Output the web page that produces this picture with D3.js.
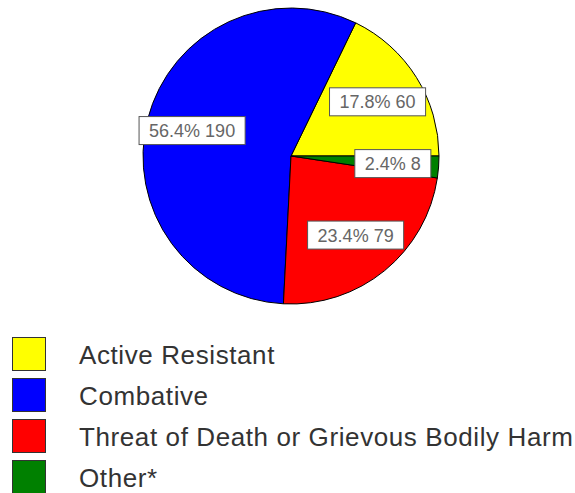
<!DOCTYPE html>
<html>
<head>
<meta charset="utf-8">
<script src="https://cdn.jsdelivr.net/npm/d3@7"></script>
<style>
  html, body { margin: 0; padding: 0; background: #fff; }
  svg { display: block; }
</style>
</head>
<body>
<div id="chart"></div>
<script>
const categories = ["Active Resistant", "Combative", "Threat of Death or Grievous Bodily Harm", "Other*"];
const values = [60, 190, 79, 8];
const colors = ["#ffff00", "#0000ff", "#ff0000", "#008000"];

const W = 575, H = 493;
const cx = 291, cy = 156, R = 148;

const svg = d3.select("#chart").append("svg").attr("width", W).attr("height", H);

const data = categories.map((c, i) => ({ name: c, value: values[i], color: colors[i] }));
const total = d3.sum(values);

const pie = d3.pie().value(d => d.value).sort(null)
  .startAngle(Math.PI / 2).endAngle(Math.PI / 2 - 2 * Math.PI);
const arcs = pie(data);

const arc = d3.arc().innerRadius(0).outerRadius(R);
const labelArc = d3.arc().innerRadius(R * 0.69).outerRadius(R * 0.69);

const g = svg.append("g").attr("transform", `translate(${cx},${cy})`);

g.selectAll("path.slice").data(arcs).join("path")
  .attr("class", "slice")
  .attr("d", arc)
  .attr("fill", d => d.data.color)
  .attr("stroke", "#000")
  .attr("stroke-width", 1)
  .attr("stroke-linejoin", "round");

const fmt = d => (d.data.value / total * 100).toFixed(1) + "% " + d.data.value;

const lab = g.selectAll("g.lab").data(arcs).join("g")
  .attr("class", "lab")
  .attr("transform", d => `translate(${labelArc.centroid(d)})`);

lab.each(function(d) {
  const sel = d3.select(this);
  const t = sel.append("text")
    .attr("text-anchor", "middle")
    .attr("dy", "0.36em")
    .attr("font-family", "'Liberation Sans', Arial, sans-serif")
    .attr("font-size", 18)
    .attr("fill", "#666")
    .text(fmt(d));
  const bb = t.node().getBBox();
  sel.insert("rect", "text")
    .attr("x", -bb.width / 2 - 10)
    .attr("y", -14)
    .attr("width", bb.width + 20)
    .attr("height", 28)
    .attr("fill", "#fff")
    .attr("stroke", "#555")
    .attr("stroke-width", 1);
});

const legend = svg.append("g");
const rowY = d3.scaleBand().domain(categories).range([337, 337 + 41 * 4]).paddingInner(0);

const rows = legend.selectAll("g").data(data).join("g")
  .attr("transform", d => `translate(0,${rowY(d.name)})`);

rows.append("rect")
  .attr("x", 12.5).attr("y", 0.5)
  .attr("width", 33).attr("height", 33)
  .attr("fill", d => d.color)
  .attr("stroke", "#333")
  .attr("stroke-width", 1);

rows.append("text")
  .attr("x", 79)
  .attr("y", 27)
  .attr("font-family", "'Liberation Sans', Arial, sans-serif")
  .attr("font-size", 26)
  .attr("letter-spacing", 0.6)
  .attr("fill", "#333")
  .text(d => d.name);
</script>
</body>
</html>
